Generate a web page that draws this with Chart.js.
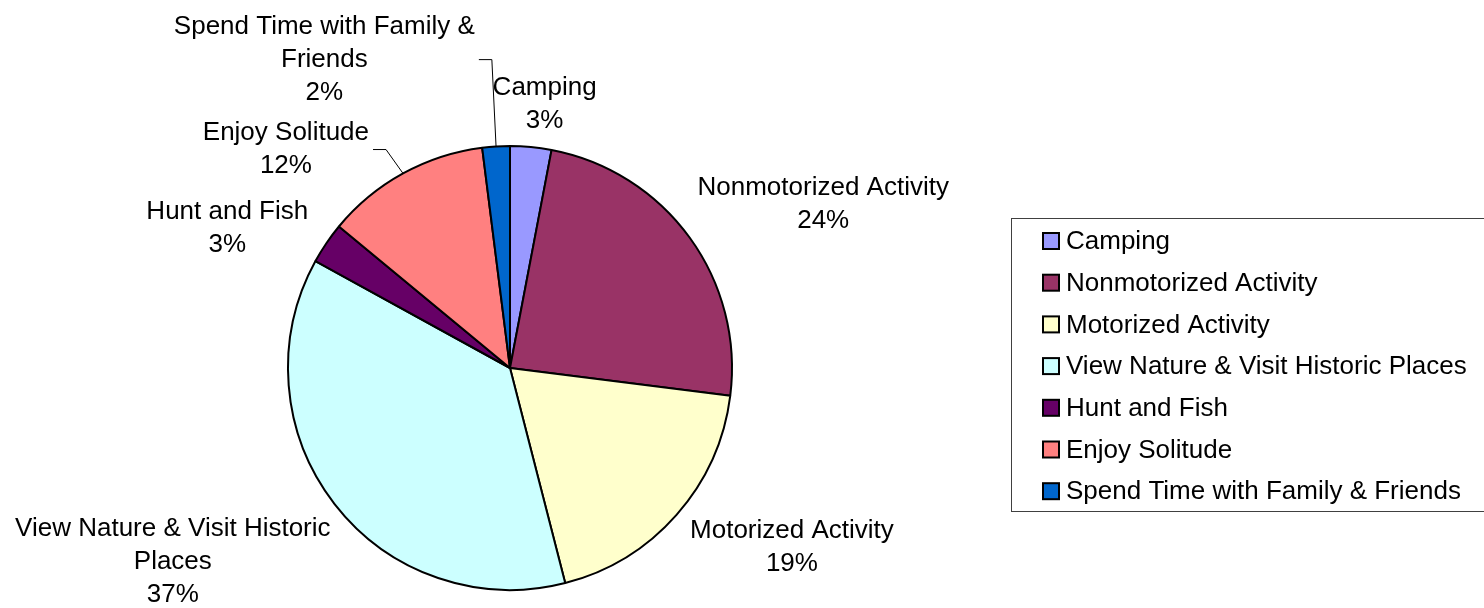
<!DOCTYPE html>
<html>
<head>
<meta charset="utf-8">
<script src="https://cdn.jsdelivr.net/npm/chart.js@4"></script>
<style>
    html, body { margin: 0; padding: 0; background: #ffffff; }
    #wrap { width: 1484px; height: 608px; }
</style>
</head>
<body>
<div id="wrap"><canvas id="pie" width="1484" height="608"></canvas></div>
<script>
const categories = [
    "Camping",
    "Nonmotorized Activity",
    "Motorized Activity",
    "View Nature & Visit Historic Places",
    "Hunt and Fish",
    "Enjoy Solitude",
    "Spend Time with Family & Friends"
];
const shares = [3, 24, 19, 37, 3, 12, 2];
const sliceColors = ["#9999ff", "#993366", "#ffffcc", "#ccffff", "#660066", "#ff8080", "#0066cc"];

const FONT = "26px 'Liberation Sans', Arial, sans-serif";
const LINE_H = 33;

// label placement: radial gap past the rim, tangential nudge, leader line on/off
const labelGap = [20, 38, 37, 47, 28, 40, 57];
const labelShift = [7, 2, -17, 0, -16, -66, -159];
const labelLeader = [false, false, false, false, false, true, true];

function wrapText(ctx, text, maxWidth) {
    const words = text.split(" ");
    const lines = [];
    let line = "";
    words.forEach((word) => {
        const test = line ? line + " " + word : word;
        if (line && ctx.measureText(test).width > maxWidth) {
            lines.push(line);
            line = word;
        } else {
            line = test;
        }
    });
    if (line) lines.push(line);
    return lines;
}

const sliceLabels = {
    id: "sliceLabels",
    afterDatasetsDraw(chart) {
        const ctx = chart.ctx;
        const meta = chart.getDatasetMeta(0);
        ctx.save();
        ctx.font = FONT;
        ctx.fillStyle = "#000000";
        ctx.textAlign = "center";
        ctx.textBaseline = "middle";

        meta.data.forEach((arc, i) => {
            const p = arc.getProps(["x", "y", "startAngle", "endAngle", "outerRadius"], true);
            const mid = (p.startAngle + p.endAngle) / 2;
            const dx = Math.cos(mid);
            const dy = Math.sin(mid);
            const lines = wrapText(ctx, categories[i], 330);
            lines.push(Math.round(shares[i]) + "%");
            const w = Math.max(...lines.map((l) => ctx.measureText(l).width));
            const h = lines.length * 32 - 10;
            const L = p.outerRadius + labelGap[i];
            const t = labelShift[i];
            const cx = p.x + dx * L + dx * w / 2 - dy * t;
            const cy = p.y + dy * L + dy * h / 2 + dx * t + 3;

            lines.forEach((line, k) => {
                const ly = cy + (k - (lines.length - 1) / 2) * LINE_H;
                ctx.fillText(line, cx, ly);
            });

            if (labelLeader[i]) {
                const ex = p.x + dx * p.outerRadius;
                const ey = p.y + dy * p.outerRadius;
                const right = cx + w / 2;
                ctx.beginPath();
                ctx.strokeStyle = "#000000";
                ctx.lineWidth = 1;
                ctx.moveTo(ex, ey);
                ctx.lineTo(right + 17, cy);
                ctx.lineTo(right + 4, cy);
                ctx.stroke();
            }
        });
        ctx.restore();
    }
};

const boxLegend = {
    id: "boxLegend",
    afterDraw(chart) {
        const ctx = chart.ctx;
        const left = 1011, top = 218, height = 293;
        ctx.save();
        ctx.strokeStyle = "#404040";
        ctx.lineWidth = 1;
        ctx.strokeRect(left + 0.5, top + 0.5, 600, height);

        ctx.font = FONT;
        ctx.textAlign = "left";
        ctx.textBaseline = "middle";
        categories.forEach((name, i) => {
            const rowY = 241 + i * 41.7;
            ctx.fillStyle = sliceColors[i];
            ctx.fillRect(1043, rowY - 8, 16, 16);
            ctx.strokeStyle = "#000000";
            ctx.lineWidth = 2;
            ctx.strokeRect(1043, rowY - 8, 16, 16);
            ctx.fillStyle = "#000000";
            ctx.fillText(name, 1066, rowY + 1);
        });
        ctx.restore();
    }
};

new Chart(document.getElementById("pie").getContext("2d"), {
    type: "pie",
    data: {
        labels: categories,
        datasets: [{
            data: shares,
            backgroundColor: sliceColors,
            borderColor: "#000000",
            borderWidth: 2
        }]
    },
    options: {
        responsive: false,
        animation: false,
        layout: { padding: { left: 287, right: 751, top: 145, bottom: 17 } },
        plugins: {
            legend: { display: false },
            tooltip: { enabled: false }
        }
    },
    plugins: [sliceLabels, boxLegend]
});
</script>
</body>
</html>
